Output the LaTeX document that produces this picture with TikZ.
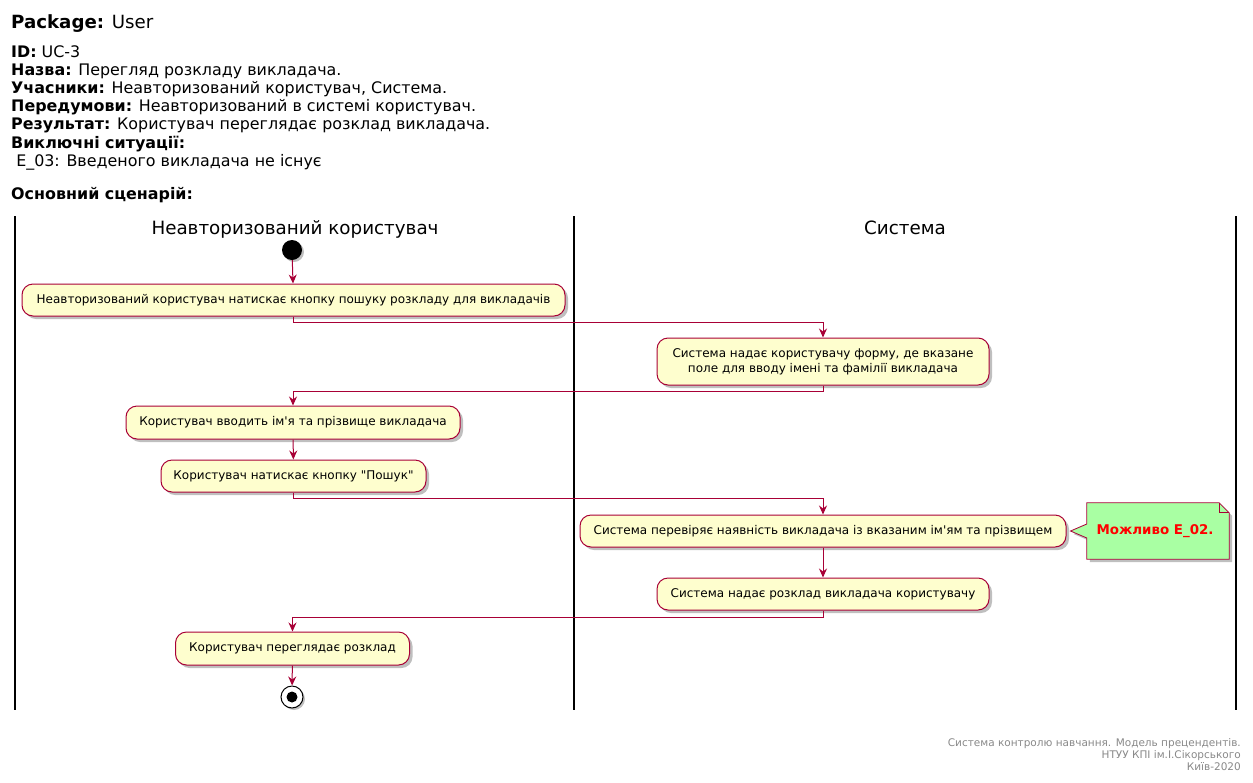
\documentclass[tikz,border=0pt]{standalone}
\usepackage{fontspec}
\setmainfont{DejaVu Sans}[Ligatures=TeXOff]
\usetikzlibrary{arrows.meta,shadows}
\definecolor{umlred}{HTML}{A80036}
\definecolor{actfill}{HTML}{FEFECE}
\definecolor{notefill}{HTML}{A9FFA3}
\definecolor{footgray}{HTML}{888888}
\tikzset{
  hdr/.style={anchor=base west,inner sep=0,font=\fontsize{15.9}{18}\selectfont},
  lanetitle/.style={anchor=base,inner sep=0,font=\fontsize{18.3}{21}\selectfont},
  lane/.style={line width=1.6pt,black},
  act/.style={draw=umlred,line width=1pt,fill=actfill,rounded corners=11pt,
    inner sep=0,align=center,font=\fontsize{12}{15}\selectfont,
    drop shadow={shadow xshift=3pt,shadow yshift=-3pt,fill=black,opacity=0.25}},
  flow/.style={draw=umlred,line width=1pt,
    -{Stealth[length=9pt,width=8pt,inset=3pt]}},
  notebox/.style={draw=umlred,line width=0.8pt,fill=notefill,
    drop shadow={shadow xshift=3pt,shadow yshift=-3pt,fill=black,opacity=0.25}},
  foot/.style={anchor=base east,inner sep=0,text=footgray,font=\fontsize{10.5}{12}\selectfont},
}
\begin{document}
\begin{tikzpicture}[x=1pt,y=-1pt]
\useasboundingbox (0,0) rectangle (1253,782);

% use-case header
\node[hdr,font=\fontsize{18.2}{21}\selectfont] (pkg) at (11,28) {\textbf{Package:} User};
\node[hdr] (hid)   at (11,57)  {\textbf{ID:} UC-3};
\node[hdr] (hname) at (11,75)  {\textbf{Назва:} Перегляд розкладу викладача.};
\node[hdr] (hpart) at (11,93)  {\textbf{Учасники:} Неавторизований користувач, Система.};
\node[hdr] (hpre)  at (11,111) {\textbf{Передумови:} Неавторизований в системі користувач.};
\node[hdr] (hres)  at (11,129) {\textbf{Результат:} Користувач переглядає розклад викладача.};
\node[hdr] (hexc)  at (11,148) {\textbf{Виключні ситуації:}};
\node[hdr] (he03)  at (11,166) {\ E\_03: Введеного викладача не існує};
\node[hdr] (hmain) at (11,199) {\textbf{Основний сценарій:}};

% swimlanes
\draw[lane] (15,216) -- (15,710);
\draw[lane] (574,216) -- (574,710);
\draw[lane] (1236,216) -- (1236,710);
\node[lanetitle] (lane1) at (295,234) {Неавторизований користувач};
\node[lanetitle] (lane2) at (905,234) {Система};

% start
\node[circle,fill=black,minimum size=20pt,inner sep=0,
  drop shadow={shadow xshift=2pt,shadow yshift=-2pt,fill=black,opacity=0.25}] (start) at (292,250) {};

% activities
\node[act,minimum width=543,minimum height=32] (a1) at (293.5,300)
  {Неавторизований користувач натискає кнопку пошуку розкладу для викладачів};
\node[act,minimum width=332,minimum height=47] (a2) at (823,361.5)
  {Система надає користувачу форму, де вказане\\ поле для вводу імені та фамілії викладача};
\node[act,minimum width=334,minimum height=33] (a3) at (293,422.5)
  {Користувач вводить ім'я та прізвище викладача};
\node[act,minimum width=265,minimum height=32] (a4) at (293.5,476)
  {Користувач натискає кнопку "Пошук"};
\node[act,minimum width=486,minimum height=32] (a5) at (823,531)
  {Система перевіряє наявність викладача із вказаним ім'ям та прізвищем};
\node[act,minimum width=332,minimum height=32] (a6) at (823,594)
  {Система надає розклад викладача користувачу};
\node[act,minimum width=234,minimum height=33] (a7) at (292.5,648.5)
  {Користувач переглядає розклад};

% end
\node[circle,draw=black,line width=1pt,fill=white,minimum size=22pt,inner sep=0,
  drop shadow={shadow xshift=2pt,shadow yshift=-2pt,fill=black,opacity=0.25}] (stop) at (292,697) {};
\node[circle,fill=black,minimum size=11pt,inner sep=0] (stopdot) at (stop) {};

% note
\node[minimum width=142,minimum height=56,inner sep=0] (note) at (1158,531) {};
\draw[notebox] (note.north west) -- ([xshift=-10pt]note.north east)
  -- ([yshift=-10pt]note.north east) -- (note.south east) -- (note.south west)
  -- ([yshift=-7pt]note.west) -- ([xshift=4pt]a5.east) -- ([yshift=7pt]note.west) -- cycle;
\draw[umlred,line width=0.8pt] ([xshift=-10pt]note.north east) -- ([xshift=-10pt,yshift=-10pt]note.north east)
  -- ([yshift=-10pt]note.north east);
\node[inner sep=0,text=red,font=\bfseries\fontsize{13.4}{16}\selectfont] (notetext) at (1155,531) {Можливо E\_02.};

% control flow
\draw[flow] (start) -- (a1);
\draw[flow] (a1.south) -- ++(0,6) -| (a2.north);
\draw[flow] (a2.south) -- ++(0,6) -| (a3.north);
\draw[flow] (a3) -- (a4);
\draw[flow] (a4.south) -- ++(0,6) -| (a5.north);
\draw[flow] (a5) -- (a6);
\draw[flow] (a6.south) -- ++(0,7) -| (a7.north);
\draw[flow] (a7) -- (stop);

% footer
\node[foot] (f1) at (1241,746) {Система контролю навчання. Модель прецендентів.};
\node[foot] (f2) at (1241,758) {НТУУ КПІ ім.І.Сікорського};
\node[foot] (f3) at (1241,770) {Київ-2020};
\end{tikzpicture}
\end{document}
